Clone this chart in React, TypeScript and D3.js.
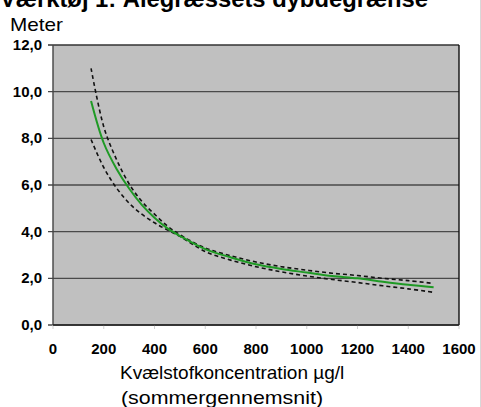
import React, { useEffect, useRef } from 'react';
import * as d3 from 'd3';

// Nitrogen concentration (µg/l) vs eelgrass depth limit (m)
const concentration = [150, 200, 250, 300, 350, 400, 450, 500, 600, 700, 800, 900, 1000, 1100, 1200, 1300, 1400, 1500];
const depthMid = [9.6, 7.8, 6.7, 5.85, 5.15, 4.6, 4.15, 3.82, 3.25, 2.9, 2.6, 2.4, 2.25, 2.1, 2.0, 1.85, 1.72, 1.62];
const depthUpper = [11.0, 8.5, 7.1, 6.05, 5.3, 4.75, 4.25, 3.87, 3.3, 2.97, 2.7, 2.5, 2.35, 2.22, 2.12, 2.0, 1.9, 1.78];
const depthLower = [7.95, 6.75, 5.88, 5.22, 4.75, 4.38, 4.08, 3.8, 3.15, 2.78, 2.5, 2.28, 2.1, 1.95, 1.82, 1.68, 1.55, 1.4];

const xTicks = [0, 200, 400, 600, 800, 1000, 1200, 1400, 1600];
const yTicks = [0, 2, 4, 6, 8, 10, 12];

const FONT = '"Liberation Sans", Arial, sans-serif';

const App: React.FC = () => {
  const svgRef = useRef<SVGSVGElement>(null);

  useEffect(() => {
    if (!svgRef.current) return;
    const svg = d3.select(svgRef.current);
    svg.selectAll('*').remove();

    const plot = { left: 53, right: 459, top: 45, bottom: 325 };

    const xScale = d3.scaleLinear().domain([0, 1600]).range([plot.left, plot.right]);
    const yScale = d3.scaleLinear().domain([0, 12]).range([plot.bottom, plot.top]);

    // right edge light line
    svg.append('line')
      .attr('x1', 480.5).attr('x2', 480.5)
      .attr('y1', 0).attr('y2', 407)
      .attr('stroke', '#d8d8d8');

    // title (partly cut at the top in the original)
    svg.append('text')
      .attr('x', 0).attr('y', 7)
      .attr('font-family', FONT)
      .attr('font-weight', 'bold')
      .attr('font-size', 23)
      .attr('textLength', 428)
      .attr('lengthAdjust', 'spacingAndGlyphs')
      .attr('fill', '#000')
      .text('Værktøj 1: Ålegræssets dybdegrænse');

    svg.append('text')
      .attr('x', 10).attr('y', 31)
      .attr('font-family', FONT)
      .attr('font-size', 19)
      .attr('textLength', 53)
      .attr('lengthAdjust', 'spacingAndGlyphs')
      .attr('fill', '#000')
      .text('Meter');

    // plot background
    svg.append('rect')
      .attr('x', plot.left).attr('y', plot.top)
      .attr('width', plot.right - plot.left)
      .attr('height', plot.bottom - plot.top)
      .attr('fill', '#c0c0c0');

    // gridlines + y ticks
    yTicks.forEach(t => {
      svg.append('line')
        .attr('x1', plot.left - 5).attr('x2', plot.right)
        .attr('y1', yScale(t)).attr('y2', yScale(t))
        .attr('stroke', t === 12 ? '#333' : '#4a4a4a')
        .attr('stroke-width', 1.4);
      svg.append('text')
        .attr('x', 42).attr('y', yScale(t) + 5)
        .attr('text-anchor', 'end')
        .attr('font-family', FONT)
        .attr('font-weight', 'bold')
        .attr('font-size', 15)
        .attr('fill', '#000')
        .text(d3.format('.1f')(t).replace('.', ','));
    });

    // x ticks
    xTicks.forEach(t => {
      svg.append('line')
        .attr('x1', xScale(t)).attr('x2', xScale(t))
        .attr('y1', plot.bottom).attr('y2', plot.bottom + 4)
        .attr('stroke', '#d0d0d0');
      svg.append('text')
        .attr('x', xScale(t)).attr('y', 354)
        .attr('text-anchor', 'middle')
        .attr('font-family', FONT)
        .attr('font-weight', 'bold')
        .attr('font-size', 15)
        .attr('fill', '#000')
        .text(t);
    });

    // frame
    svg.append('line')
      .attr('x1', plot.left).attr('x2', plot.left)
      .attr('y1', plot.top).attr('y2', plot.bottom)
      .attr('stroke', '#444').attr('stroke-width', 1.4);
    svg.append('line')
      .attr('x1', plot.right).attr('x2', plot.right)
      .attr('y1', plot.top).attr('y2', plot.bottom)
      .attr('stroke', '#111').attr('stroke-width', 1.4);
    svg.append('line')
      .attr('x1', plot.left).attr('x2', plot.right)
      .attr('y1', plot.bottom).attr('y2', plot.bottom)
      .attr('stroke', '#222').attr('stroke-width', 1.6);

    const line = (vals: number[]) =>
      d3.line<number>()
        .x((_, i) => xScale(concentration[i]))
        .y(d => yScale(d))
        .curve(d3.curveCatmullRom.alpha(0.5))(vals);

    svg.append('path')
      .attr('d', line(depthUpper))
      .attr('fill', 'none')
      .attr('stroke', '#111')
      .attr('stroke-width', 1.6)
      .attr('stroke-dasharray', '4,3');

    svg.append('path')
      .attr('d', line(depthLower))
      .attr('fill', 'none')
      .attr('stroke', '#111')
      .attr('stroke-width', 1.6)
      .attr('stroke-dasharray', '4,3');

    svg.append('path')
      .attr('d', line(depthMid))
      .attr('fill', 'none')
      .attr('stroke', '#1f9a25')
      .attr('stroke-width', 2);

    // axis title
    svg.append('text')
      .attr('x', 120).attr('y', 379)
      .attr('font-family', FONT)
      .attr('font-size', 19)
      .attr('fill', '#000')
      .text('Kvælstofkoncentration µg/l');
    svg.append('text')
      .attr('x', 121).attr('y', 404)
      .attr('font-family', FONT)
      .attr('font-size', 19)
      .attr('textLength', 202)
      .attr('lengthAdjust', 'spacingAndGlyphs')
      .attr('fill', '#000')
      .text('(sommergennemsnit)');
  }, []);

  return (
    <svg
      ref={svgRef}
      width={481}
      height={407}
      style={{ position: 'absolute', left: 0, top: 0, background: '#fff' }}
    />
  );
};

export default App;
